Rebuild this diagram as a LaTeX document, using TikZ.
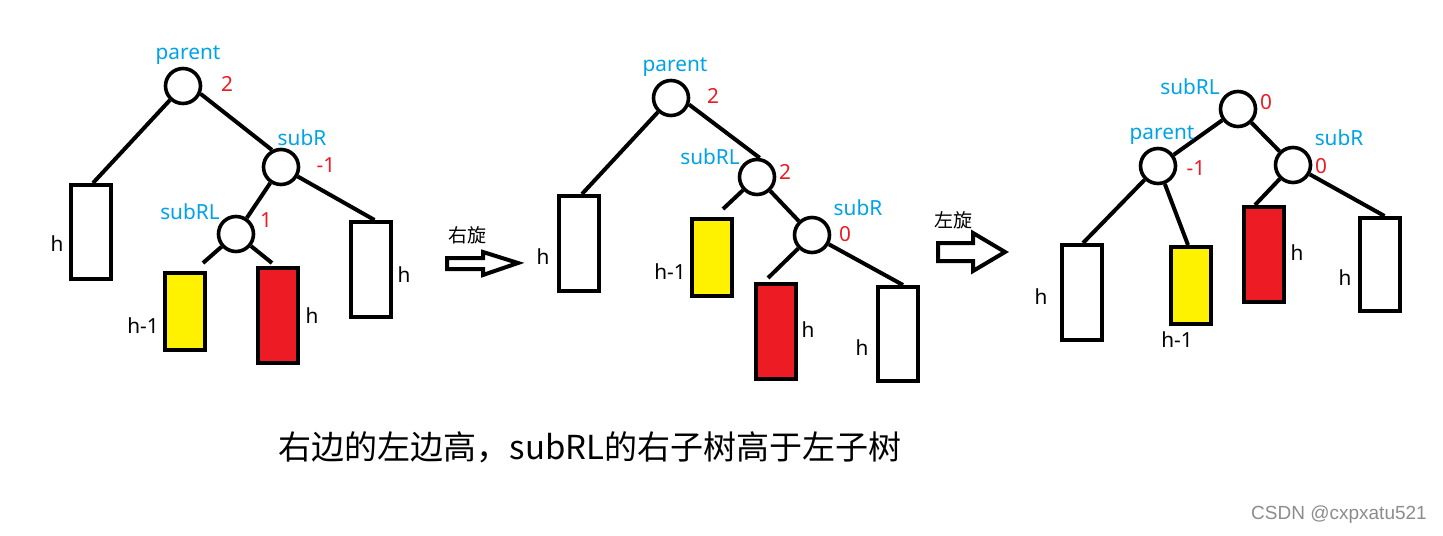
\documentclass[tikz,border=0pt]{standalone}
\usepackage{fontspec}
\setmainfont{Noto Sans}
\newfontfamily\cjk{Noto Sans CJK SC}
\newfontfamily\wmfont{Liberation Sans}
\usetikzlibrary{calc}
\definecolor{lblue}{RGB}{0,162,232}
\definecolor{pred}{RGB}{237,28,36}
\definecolor{pyel}{RGB}{255,242,0}
\begin{document}
\begin{tikzpicture}[x=0.5pt,y=-0.5pt,
  nd/.style={circle,draw,line width=1.8pt,minimum size=17.5pt,inner sep=0pt},
  box/.style={draw,line width=2pt,minimum width=20pt,inner sep=0pt},
  edge/.style={line width=2pt},
  nm/.style={text=lblue,font=\fontsize{10.4}{12}\selectfont,inner sep=0pt},
  bf/.style={text=pred,font=\fontsize{10.4}{12}\selectfont,inner sep=0pt},
  hl/.style={font=\fontsize{10.4}{12}\selectfont,inner sep=0pt},
  rot/.style={font=\cjk\fontsize{9.5}{11}\selectfont,inner sep=0pt},
  fat/.style={draw,line width=2pt,fill=white}]
\useasboundingbox[fill=white] (0,0) rectangle (1443,535);

% ---------- tree 1 ----------
\node[nd] (p1) at (183,86) {};
\node[nd] (r1) at (281,167) {};
\node[nd] (rl1) at (236,234) {};
\node[box,minimum height=47pt] (L1) at (91,232) {};
\node[box,fill=pyel,minimum height=38.5pt] (Y1) at (185,311.5) {};
\node[box,fill=pred,minimum height=47.5pt] (R1) at (278,315.5) {};
\node[box,minimum height=47.5pt] (W1) at (370.5,269.5) {};
\draw[edge] (p1) -- ($(L1.north)+(2,0)$);
\draw[edge] (p1.-24) -- (r1.118);
\draw[edge] (r1) -- (rl1);
\draw[edge] (r1) -- ($(W1.north)+(4,0)$);
\draw[edge] (rl1) -- ($(Y1.north)+(18,-8)$);
\draw[edge] (rl1) -- ($(R1.north)+(-6,-3)$);
\node[nm] (t1a) at (188,55) {parent};
\node[bf] (t1b) at (227,84) {2};
\node[nm] (t1c) at (302,138) {subR};
\node[bf] (t1d) at (326,165) {-1};
\node[nm] (t1e) at (190,212) {subRL};
\node[bf] (t1f) at (266,220) {1};
\node[hl] (t1g) at (57,244) {h};
\node[hl] (t1h) at (143,326) {h-1};
\node[hl] (t1i) at (312,316) {h};
\node[hl] (t1j) at (404,275) {h};

% ---------- arrow 1 ----------
\draw[fat] (447,258) -- (483,258) -- (483,252) -- (518,263) -- (483,275) -- (483,269) -- (447,269) -- cycle;
\node[rot] (a1) at (467,235) {右旋};

% ---------- tree 2 ----------
\node[nd] (p2) at (671,98) {};
\node[nd] (rl2) at (757,177) {};
\node[nd] (r2) at (812,235) {};
\node[box,minimum height=47.5pt] (L2) at (579,243.5) {};
\node[box,fill=pyel,minimum height=38.5pt] (Y2) at (712,257.5) {};
\node[box,fill=pred,minimum height=47.5pt] (R2) at (776,331.5) {};
\node[box,minimum height=47pt] (W2) at (898,334) {};
\draw[edge] (p2) -- ($(L2.north)+(3,0)$);
\draw[edge] (p2.-20) -- (rl2.82);
\draw[edge] (rl2) -- ($(Y2.north)+(11,-8)$);
\draw[edge] (rl2) -- (r2);
\draw[edge] (r2) -- ($(R2.north)+(-8,-4)$);
\draw[edge] (r2) -- ($(W2.north)+(5,0)$);
\node[nm] (t2a) at (675,67) {parent};
\node[bf] (t2b) at (713,96) {2};
\node[nm] (t2c) at (710,157) {subRL};
\node[bf] (t2d) at (785,172) {2};
\node[nm] (t2e) at (858,208) {subR};
\node[bf] (t2f) at (845,234) {0};
\node[hl] (t2g) at (543,257) {h};
\node[hl] (t2h) at (670,272) {h-1};
\node[hl] (t2i) at (808,330) {h};
\node[hl] (t2j) at (862,348) {h};

% ---------- arrow 2 ----------
\draw[fat] (938,243) -- (973,243) -- (973,233) -- (1005,252) -- (973,271) -- (973,261) -- (938,261) -- cycle;
\node[rot] (a2) at (953,220) {左旋};

% ---------- tree 3 ----------
\node[nd] (rl3) at (1238,109) {};
\node[nd] (p3) at (1158,166) {};
\node[nd] (r3) at (1293,165) {};
\node[box,minimum height=47.5pt] (L3) at (1082,292.5) {};
\node[box,fill=pyel,minimum height=38.5pt] (Y3) at (1191,285.5) {};
\node[box,fill=pred,minimum height=47.5pt] (R3) at (1264,254.5) {};
\node[box,minimum height=46.5pt] (W3) at (1379.5,264.5) {};
\draw[edge] (rl3) -- (p3);
\draw[edge] (rl3) -- (r3);
\draw[edge] (p3) -- ($(L3.north)+(1,0)$);
\draw[edge] (p3) -- ($(Y3.north)+(-3,0)$);
\draw[edge] (r3) -- ($(R3.north)+(-9,0)$);
\draw[edge] (r3) -- ($(W3.north)+(5,0)$);
\node[nm] (t3a) at (1190,87) {subRL};
\node[bf] (t3b) at (1266,102) {0};
\node[nm] (t3c) at (1162,135) {parent};
\node[bf] (t3d) at (1196,168) {-1};
\node[nm] (t3e) at (1339,138) {subR};
\node[bf] (t3f) at (1321,166) {0};
\node[hl] (t3g) at (1041,297) {h};
\node[hl] (t3h) at (1177,340) {h-1};
\node[hl] (t3i) at (1297,253) {h};
\node[hl] (t3j) at (1345,278) {h};

% ---------- caption ----------
\node[font=\cjk\fontsize{16.5}{20}\selectfont,inner sep=0pt] (cap) at (590,447) {右边的左边高，subRL的右子树高于左子树};
\node[font=\wmfont\fontsize{9.5}{11}\selectfont,text=black!45,inner sep=0pt] (wm) at (1339,515) {CSDN @cxpxatu521};
\end{tikzpicture}
\end{document}
